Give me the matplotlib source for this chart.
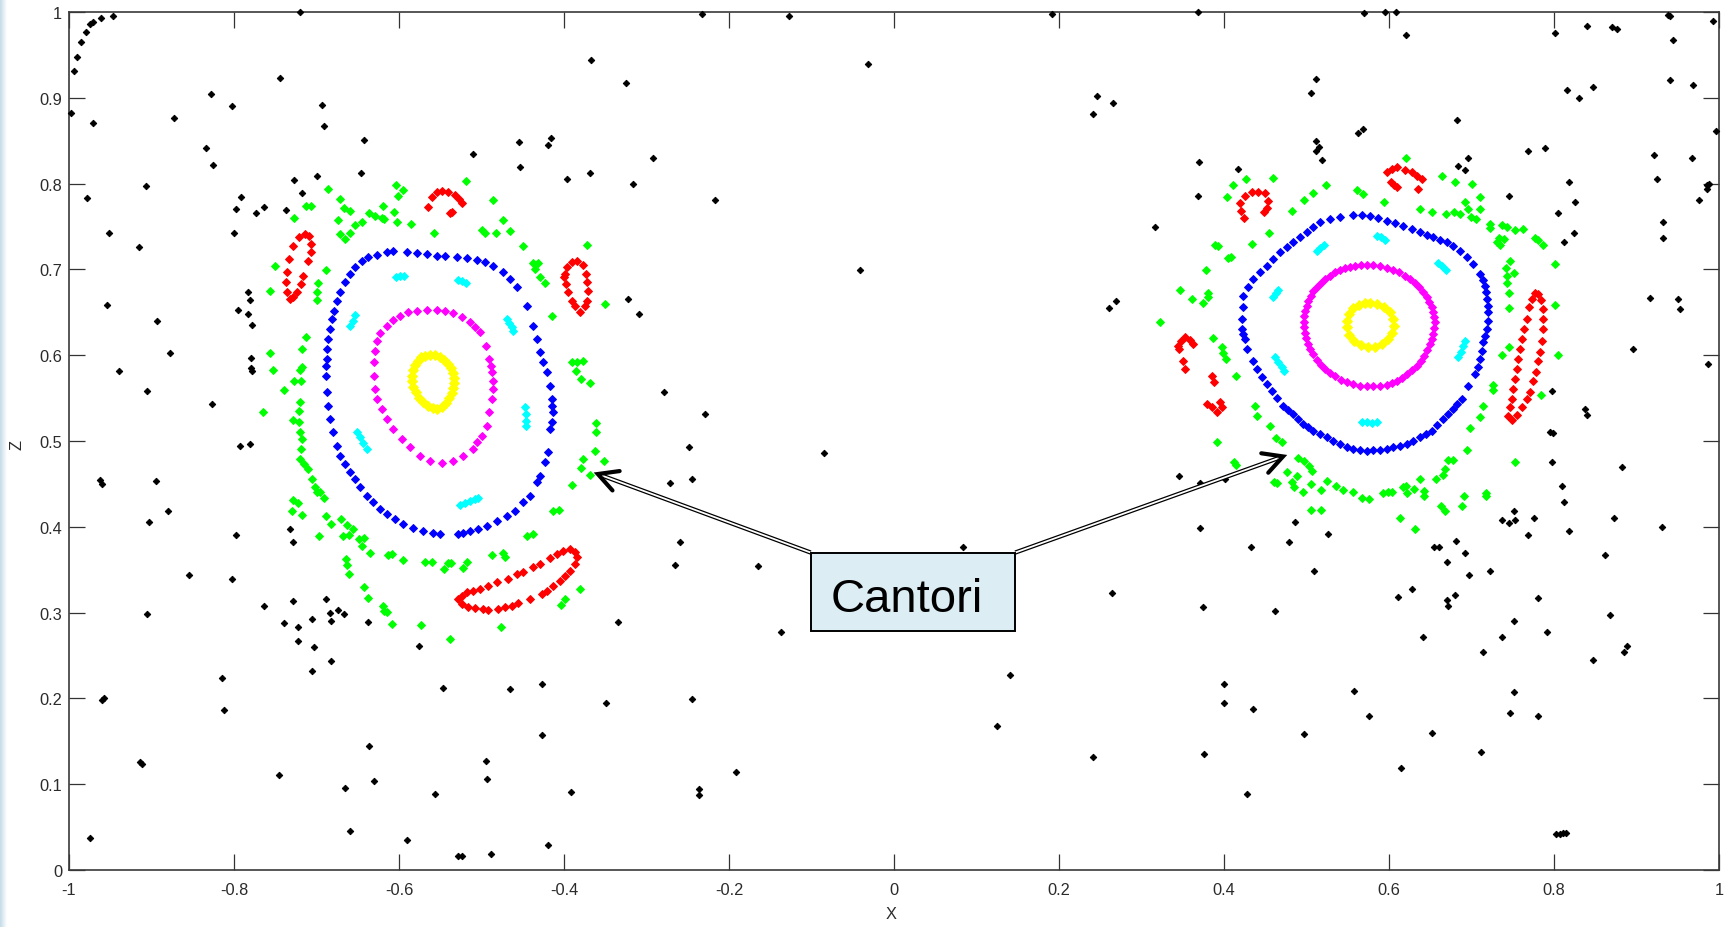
import matplotlib
matplotlib.use("Agg")
import matplotlib.pyplot as plt
import numpy as np
from matplotlib.patches import Rectangle
from matplotlib.colors import LinearSegmentedColormap

plt.rcParams['font.family'] = ['Liberation Sans', 'DejaVu Sans']

# ---------------------------------------------------------------- axes setup
x_ticks = [-1, -0.8, -0.6, -0.4, -0.2, 0, 0.2, 0.4, 0.6, 0.8, 1]
x_tick_labels = ['-1', '-0.8', '-0.6', '-0.4', '-0.2', '0', '0.2', '0.4', '0.6', '0.8', '1']
y_ticks = [0, 0.1, 0.2, 0.3, 0.4, 0.5, 0.6, 0.7, 0.8, 0.9, 1]
y_tick_labels = ['0', '0.1', '0.2', '0.3', '0.4', '0.5', '0.6', '0.7', '0.8', '0.9', '1']

# ---------------------------------------------------------------- chaotic sea (black)
chaotic_sea = [
    (-0.998, 0.882), (-0.994, 0.931), (-0.990, 0.947), (-0.985, 0.965), (-0.979, 0.977),
    (-0.975, 0.986), (-0.971, 0.988), (-0.961, 0.993), (-0.947, 0.995), (-0.971, 0.871),
    (-0.978, 0.783), (-0.951, 0.743), (-0.907, 0.797), (-0.915, 0.726), (-0.873, 0.877),
    (-0.834, 0.841), (-0.828, 0.905), (-0.825, 0.822), (-0.803, 0.890), (-0.798, 0.770),
    (-0.792, 0.784), (-0.800, 0.743), (-0.773, 0.766), (-0.764, 0.773), (-0.744, 0.923),
    (-0.737, 0.769), (-0.727, 0.804), (-0.720, 1.000), (-0.717, 0.789), (-0.700, 0.809),
    (-0.693, 0.892), (-0.691, 0.867), (-0.646, 0.812), (-0.642, 0.851),
    (-0.954, 0.658), (-0.893, 0.640), (-0.878, 0.603), (-0.939, 0.582), (-0.905, 0.558),
    (-0.827, 0.543), (-0.783, 0.674), (-0.781, 0.664), (-0.795, 0.653), (-0.783, 0.648),
    (-0.778, 0.635), (-0.779, 0.597), (-0.779, 0.585), (-0.778, 0.582), (-0.793, 0.494),
    (-0.781, 0.497), (-0.962, 0.455), (-0.960, 0.450), (-0.895, 0.453), (-0.880, 0.418),
    (-0.903, 0.406), (-0.798, 0.390), (-0.732, 0.397), (-0.728, 0.382), (-0.854, 0.344),
    (-0.803, 0.339), (-0.905, 0.298), (-0.764, 0.308), (-0.728, 0.313), (-0.739, 0.288),
    (-0.722, 0.283), (-0.723, 0.267), (-0.705, 0.292), (-0.688, 0.316), (-0.684, 0.300),
    (-0.682, 0.290), (-0.674, 0.303), (-0.667, 0.298), (-0.703, 0.260), (-0.682, 0.244),
    (-0.705, 0.232), (-0.815, 0.224), (-0.812, 0.186), (-0.960, 0.198), (-0.958, 0.201),
    (-0.914, 0.126), (-0.912, 0.124), (-0.745, 0.111), (-0.666, 0.096), (-0.975, 0.037),
    (-0.659, 0.045),
    (-0.233, 0.998), (-0.127, 0.995), (0.191, 0.998), (0.368, 1.000), (-0.367, 0.944),
    (-0.325, 0.917), (-0.031, 0.939), (0.246, 0.902), (0.266, 0.894), (0.241, 0.881),
    (-0.416, 0.853), (-0.420, 0.845), (-0.292, 0.830), (-0.396, 0.805), (-0.368, 0.812),
    (-0.316, 0.800), (-0.217, 0.781), (0.370, 0.825), (0.368, 0.786), (0.417, 0.817),
    (0.316, 0.750), (-0.041, 0.699), (-0.323, 0.665), (-0.309, 0.648), (0.261, 0.655),
    (0.269, 0.663), (-0.279, 0.557), (-0.229, 0.532), (-0.248, 0.493), (-0.085, 0.486),
    (-0.271, 0.451), (-0.245, 0.456), (0.346, 0.459), (0.371, 0.451), (0.371, 0.399),
    (-0.259, 0.382), (0.084, 0.376), (-0.453, 0.819), (-0.510, 0.835), (-0.454, 0.848),
    (-0.265, 0.356), (-0.165, 0.354), (-0.637, 0.289), (-0.334, 0.289), (-0.137, 0.277),
    (-0.576, 0.261), (0.264, 0.323), (-0.547, 0.212), (-0.465, 0.211), (-0.427, 0.217),
    (-0.349, 0.195), (-0.245, 0.199), (0.140, 0.227), (0.125, 0.168), (-0.636, 0.145),
    (-0.427, 0.157), (-0.495, 0.127), (-0.493, 0.106), (-0.630, 0.104), (-0.556, 0.089),
    (-0.391, 0.091), (-0.236, 0.094), (-0.236, 0.087), (-0.191, 0.114), (0.241, 0.132),
    (-0.590, 0.035), (-0.528, 0.016), (-0.524, 0.016), (-0.488, 0.019), (-0.420, 0.029),
    (0.401, 0.456), (0.797, 0.475), (0.883, 0.470), (0.810, 0.447), (0.812, 0.429),
    (0.818, 0.395), (0.486, 0.406), (0.526, 0.392), (0.479, 0.382), (0.433, 0.376),
    (0.509, 0.348), (0.752, 0.418), (0.737, 0.408), (0.745, 0.405), (0.753, 0.408),
    (0.776, 0.410), (0.769, 0.390), (0.873, 0.410), (0.931, 0.400), (0.862, 0.367),
    (0.681, 0.383), (0.655, 0.376), (0.661, 0.376), (0.692, 0.369), (0.670, 0.359),
    (0.697, 0.344), (0.723, 0.349), (0.628, 0.328), (0.611, 0.318), (0.680, 0.321),
    (0.670, 0.315), (0.672, 0.308), (0.780, 0.317), (0.375, 0.307), (0.462, 0.302),
    (0.751, 0.290), (0.737, 0.272), (0.792, 0.277), (0.868, 0.297), (0.641, 0.271),
    (0.714, 0.254), (0.847, 0.245), (0.885, 0.254), (0.888, 0.261), (0.400, 0.217),
    (0.400, 0.195), (0.435, 0.188), (0.557, 0.209), (0.576, 0.179), (0.497, 0.158),
    (0.752, 0.207), (0.747, 0.183), (0.780, 0.179), (0.652, 0.160), (0.711, 0.138),
    (0.376, 0.135), (0.614, 0.119), (0.428, 0.088), (0.803, 0.042), (0.807, 0.042),
    (0.811, 0.043), (0.815, 0.043),
    (0.801, 0.976), (0.840, 0.984), (0.870, 0.982), (0.876, 0.980), (0.938, 0.997),
    (0.941, 0.995), (0.993, 0.990), (0.944, 0.967), (0.816, 0.909), (0.830, 0.900),
    (0.847, 0.913), (0.940, 0.921), (0.969, 0.915), (0.996, 0.861), (0.769, 0.838),
    (0.789, 0.841), (0.921, 0.833), (0.967, 0.830), (0.818, 0.802), (0.925, 0.805),
    (0.986, 0.798), (0.988, 0.800), (0.985, 0.794), (0.976, 0.781), (0.745, 0.786),
    (0.826, 0.778), (0.805, 0.766), (0.932, 0.755), (0.932, 0.737), (0.824, 0.742),
    (0.812, 0.732),
    (0.511, 0.850), (0.512, 0.838), (0.519, 0.828), (0.684, 0.821), (0.696, 0.830),
    (0.692, 0.816), (0.795, 0.510), (0.799, 0.509),
    (0.512, 0.922), (0.506, 0.906), (0.568, 0.864), (0.563, 0.859), (0.515, 0.843),
    (0.570, 0.999), (0.595, 1.000), (0.609, 1.000), (0.621, 0.973), (0.682, 0.874),
    (0.916, 0.667), (0.950, 0.666), (0.953, 0.654), (0.987, 0.590), (0.896, 0.607),
    (0.837, 0.537), (0.840, 0.530), (0.797, 0.558),
]

# ---------------------------------------------------------------- cantori layer (green)
cantori_left = [
    (-0.686, 0.794), (-0.671, 0.782), (-0.667, 0.771), (-0.659, 0.768), (-0.674, 0.758),
    (-0.653, 0.752), (-0.645, 0.755), (-0.636, 0.766), (-0.629, 0.762), (-0.621, 0.760),
    (-0.618, 0.759), (-0.620, 0.774), (-0.606, 0.767), (-0.603, 0.755), (-0.604, 0.798),
    (-0.595, 0.793), (-0.601, 0.786), (-0.585, 0.753), (-0.557, 0.742), (-0.519, 0.803),
    (-0.486, 0.781), (-0.474, 0.758), (-0.466, 0.745), (-0.482, 0.743), (-0.499, 0.746),
    (-0.496, 0.743), (-0.450, 0.727), (-0.437, 0.708), (-0.432, 0.707), (-0.435, 0.701),
    (-0.429, 0.691), (-0.423, 0.684), (-0.414, 0.646), (-0.372, 0.729), (-0.350, 0.660),
    (-0.713, 0.774), (-0.707, 0.774), (-0.727, 0.760), (-0.671, 0.741), (-0.665, 0.736),
    (-0.660, 0.743), (-0.750, 0.704), (-0.756, 0.675), (-0.689, 0.699), (-0.698, 0.684),
    (-0.699, 0.674), (-0.699, 0.664), (-0.713, 0.621), (-0.718, 0.607), (-0.756, 0.603),
    (-0.753, 0.583), (-0.718, 0.586), (-0.720, 0.583), (-0.727, 0.570), (-0.719, 0.570),
    (-0.739, 0.559), (-0.390, 0.592), (-0.384, 0.592), (-0.377, 0.593), (-0.386, 0.582),
    (-0.379, 0.572), (-0.369, 0.568),
    (-0.720, 0.545), (-0.721, 0.535), (-0.765, 0.534), (-0.728, 0.525), (-0.721, 0.522),
    (-0.720, 0.510), (-0.718, 0.502), (-0.719, 0.491), (-0.720, 0.479), (-0.715, 0.473),
    (-0.710, 0.467), (-0.706, 0.456), (-0.702, 0.446), (-0.696, 0.440), (-0.691, 0.433),
    (-0.699, 0.441), (-0.728, 0.431), (-0.723, 0.428), (-0.730, 0.418), (-0.718, 0.414),
    (-0.688, 0.413), (-0.682, 0.403), (-0.670, 0.409), (-0.663, 0.402), (-0.656, 0.398),
    (-0.661, 0.391), (-0.668, 0.389), (-0.697, 0.389), (-0.649, 0.386), (-0.643, 0.387),
    (-0.645, 0.378), (-0.635, 0.370), (-0.613, 0.367), (-0.609, 0.368), (-0.595, 0.361),
    (-0.569, 0.359), (-0.560, 0.359), (-0.546, 0.351), (-0.540, 0.358), (-0.537, 0.358),
    (-0.523, 0.352), (-0.518, 0.359), (-0.487, 0.367), (-0.474, 0.370), (-0.472, 0.365),
    (-0.445, 0.389), (-0.438, 0.392), (-0.413, 0.418), (-0.406, 0.420), (-0.664, 0.362),
    (-0.663, 0.355), (-0.661, 0.345), (-0.642, 0.330), (-0.637, 0.317), (-0.619, 0.308),
    (-0.618, 0.302), (-0.615, 0.301), (-0.608, 0.287), (-0.573, 0.286), (-0.538, 0.269),
    (-0.476, 0.283), (-0.381, 0.327), (-0.399, 0.316), (-0.404, 0.309), (-0.361, 0.521),
    (-0.361, 0.510), (-0.362, 0.488), (-0.377, 0.479), (-0.352, 0.477), (-0.379, 0.469),
    (-0.369, 0.460), (-0.390, 0.449),
]

cantori_right = [
    (0.621, 0.830), (0.664, 0.809), (0.680, 0.802), (0.700, 0.800), (0.710, 0.784),
    (0.692, 0.779), (0.696, 0.770), (0.710, 0.770), (0.679, 0.767), (0.686, 0.765),
    (0.669, 0.765), (0.652, 0.767), (0.637, 0.770), (0.699, 0.761), (0.706, 0.759),
    (0.722, 0.753), (0.722, 0.748), (0.737, 0.752), (0.743, 0.749), (0.753, 0.746),
    (0.763, 0.747), (0.777, 0.737), (0.781, 0.734), (0.787, 0.729), (0.733, 0.737),
    (0.739, 0.736), (0.735, 0.728), (0.731, 0.732), (0.801, 0.706), (0.747, 0.710),
    (0.742, 0.702), (0.751, 0.696), (0.743, 0.692), (0.743, 0.684), (0.745, 0.673),
    (0.745, 0.655), (0.801, 0.659), (0.805, 0.600), (0.745, 0.609), (0.737, 0.600),
    (0.726, 0.565), (0.726, 0.559), (0.784, 0.554), (0.714, 0.541), (0.710, 0.528),
    (0.698, 0.515), (0.459, 0.807), (0.427, 0.805), (0.411, 0.798), (0.404, 0.784),
    (0.524, 0.798), (0.508, 0.789), (0.497, 0.781), (0.482, 0.768), (0.561, 0.792),
    (0.569, 0.788), (0.594, 0.779), (0.455, 0.743), (0.434, 0.730), (0.393, 0.727),
    (0.389, 0.729), (0.409, 0.715), (0.405, 0.713), (0.378, 0.699), (0.347, 0.676),
    (0.361, 0.666), (0.381, 0.673), (0.381, 0.668), (0.375, 0.661), (0.322, 0.639),
    (0.387, 0.620), (0.397, 0.609), (0.399, 0.603), (0.403, 0.596), (0.415, 0.576),
    (0.438, 0.541), (0.440, 0.529), (0.456, 0.518), (0.463, 0.504), (0.470, 0.499),
    (0.392, 0.499),
    (0.483, 0.452), (0.460, 0.452), (0.464, 0.451), (0.485, 0.446), (0.496, 0.441),
    (0.505, 0.450), (0.518, 0.443), (0.525, 0.453), (0.536, 0.447), (0.544, 0.443),
    (0.556, 0.441), (0.567, 0.434), (0.576, 0.432), (0.593, 0.439), (0.599, 0.440),
    (0.604, 0.440), (0.617, 0.446), (0.620, 0.447), (0.630, 0.444), (0.622, 0.439),
    (0.638, 0.456), (0.642, 0.442), (0.643, 0.436), (0.657, 0.456), (0.691, 0.436),
    (0.718, 0.436), (0.717, 0.439), (0.688, 0.424), (0.663, 0.424), (0.668, 0.418),
    (0.613, 0.410), (0.631, 0.397), (0.505, 0.420), (0.518, 0.420),
    (0.412, 0.476), (0.415, 0.472), (0.490, 0.480), (0.497, 0.477), (0.503, 0.471),
    (0.507, 0.465), (0.476, 0.464), (0.488, 0.459), (0.666, 0.460), (0.668, 0.467),
    (0.672, 0.478), (0.678, 0.478), (0.694, 0.489), (0.753, 0.475),
]

# ---------------------------------------------------------------- invariant tori, left island
torus_left_yellow = [
    (-0.5685, 0.5995), (-0.5624, 0.6003), (-0.5563, 0.5999), (-0.5503, 0.5979),
    (-0.5450, 0.5944), (-0.5402, 0.5902), (-0.5369, 0.5851), (-0.5345, 0.5793),
    (-0.5333, 0.5735), (-0.5333, 0.5676), (-0.5341, 0.5614), (-0.5361, 0.5556),
    (-0.5390, 0.5498), (-0.5426, 0.5443), (-0.5474, 0.5397), (-0.5535, 0.5373),
    (-0.5592, 0.5381), (-0.5652, 0.5404), (-0.5709, 0.5451), (-0.5757, 0.5505),
    (-0.5798, 0.5567), (-0.5826, 0.5630), (-0.5846, 0.5696), (-0.5846, 0.5762),
    (-0.5834, 0.5824), (-0.5806, 0.5886), (-0.5773, 0.5937), (-0.5733, 0.5975),
]

torus_left_magenta = [
    (-0.6299, 0.5917), (-0.6291, 0.6053), (-0.6271, 0.6170), (-0.6230, 0.6259),
    (-0.6149, 0.6345), (-0.6069, 0.6411), (-0.5988, 0.6461), (-0.5887, 0.6500),
    (-0.5786, 0.6519), (-0.5665, 0.6531), (-0.5543, 0.6531), (-0.5442, 0.6519),
    (-0.5341, 0.6492), (-0.5240, 0.6446), (-0.5139, 0.6383), (-0.5079, 0.6325),
    (-0.5018, 0.6267), (-0.4946, 0.6111), (-0.4905, 0.5956), (-0.4885, 0.5878),
    (-0.4869, 0.5801), (-0.4857, 0.5703), (-0.4857, 0.5606), (-0.4877, 0.5490),
    (-0.4905, 0.5334), (-0.4937, 0.5179), (-0.4998, 0.5062), (-0.5050, 0.4985),
    (-0.5099, 0.4907), (-0.5220, 0.4829), (-0.5341, 0.4771), (-0.5483, 0.4744),
    (-0.5624, 0.4771), (-0.5745, 0.4829), (-0.5867, 0.4926), (-0.5968, 0.5024),
    (-0.6069, 0.5140), (-0.6149, 0.5257), (-0.6210, 0.5373), (-0.6263, 0.5490),
    (-0.6291, 0.5606), (-0.6299, 0.5762),
]

torus_left_blue = [
    (-0.6816, 0.6422), (-0.6788, 0.6519), (-0.6755, 0.6636), (-0.6715, 0.6733),
    (-0.6654, 0.6850), (-0.6594, 0.6947), (-0.6533, 0.7024), (-0.6452, 0.7102),
    (-0.6372, 0.7141), (-0.6271, 0.7168), (-0.6149, 0.7199), (-0.6069, 0.7215),
    (-0.5907, 0.7207), (-0.5786, 0.7188), (-0.5665, 0.7176), (-0.5543, 0.7160),
    (-0.5442, 0.7153), (-0.5301, 0.7149), (-0.5180, 0.7129), (-0.5059, 0.7114),
    (-0.4958, 0.7083), (-0.4857, 0.7036), (-0.4736, 0.6966), (-0.4655, 0.6888),
    (-0.4574, 0.6791), (-0.4444, 0.6578), (-0.4372, 0.6345), (-0.4331, 0.6189),
    (-0.4291, 0.6034), (-0.4251, 0.5917), (-0.4210, 0.5801), (-0.4170, 0.5645),
    (-0.4150, 0.5490), (-0.4142, 0.5412), (-0.4137, 0.5334), (-0.4150, 0.5218),
    (-0.4170, 0.5140), (-0.4190, 0.4868), (-0.4230, 0.4752), (-0.4291, 0.4596),
    (-0.4331, 0.4519), (-0.4412, 0.4363), (-0.4493, 0.4285), (-0.4594, 0.4188),
    (-0.4695, 0.4130), (-0.4816, 0.4072), (-0.4937, 0.4014), (-0.5038, 0.3975),
    (-0.5139, 0.3955), (-0.5220, 0.3928), (-0.5281, 0.3916), (-0.5503, 0.3916),
    (-0.5584, 0.3928), (-0.5705, 0.3955), (-0.5826, 0.3982), (-0.5947, 0.4033),
    (-0.6048, 0.4091), (-0.6149, 0.4150), (-0.6230, 0.4208), (-0.6311, 0.4285),
    (-0.6392, 0.4363), (-0.6473, 0.4460), (-0.6533, 0.4557), (-0.6594, 0.4635),
    (-0.6654, 0.4732), (-0.6715, 0.4829), (-0.6755, 0.4946), (-0.6796, 0.5101),
    (-0.6836, 0.5257), (-0.6856, 0.5412), (-0.6869, 0.5568), (-0.6885, 0.5762),
    (-0.6885, 0.5878), (-0.6877, 0.5956), (-0.6869, 0.6073), (-0.6856, 0.6189),
    (-0.6836, 0.6306),
]

islands_left_cyan = [
    (-0.6036, 0.6908), (-0.5988, 0.6920), (-0.5939, 0.6920),
    (-0.5281, 0.6881), (-0.5232, 0.6861), (-0.5184, 0.6842),
    (-0.6594, 0.6345), (-0.6562, 0.6403), (-0.6533, 0.6469),
    (-0.4695, 0.6422), (-0.4663, 0.6376), (-0.4630, 0.6325), (-0.4614, 0.6286),
    (-0.4473, 0.5393), (-0.4465, 0.5315), (-0.4461, 0.5237), (-0.4461, 0.5179),
    (-0.6513, 0.5109), (-0.6473, 0.5043), (-0.6432, 0.4977), (-0.6392, 0.4907),
    (-0.5261, 0.4255), (-0.5200, 0.4278), (-0.5139, 0.4305), (-0.5079, 0.4325),
    (-0.5038, 0.4332),
]

islands_left_red = [
    (-0.5644, 0.7724), (-0.5604, 0.7840), (-0.5543, 0.7899), (-0.5483, 0.7918),
    (-0.5402, 0.7906), (-0.5321, 0.7867), (-0.5269, 0.7821), (-0.5240, 0.7774),
    (-0.5354, 0.7673), (-0.5382, 0.7658),
    (-0.7321, 0.6655), (-0.7361, 0.6733), (-0.7374, 0.6850), (-0.7361, 0.6966),
    (-0.7333, 0.7122), (-0.7281, 0.7269), (-0.7208, 0.7374), (-0.7139, 0.7413),
    (-0.7087, 0.7386), (-0.7062, 0.7296), (-0.7071, 0.7199), (-0.7099, 0.7102),
    (-0.7159, 0.6927), (-0.7192, 0.6830), (-0.7232, 0.6741), (-0.7281, 0.6675),
    (-0.3988, 0.6947), (-0.3968, 0.7024), (-0.3907, 0.7083), (-0.3847, 0.7102),
    (-0.3774, 0.7052), (-0.3734, 0.6947), (-0.3717, 0.6850), (-0.3705, 0.6752),
    (-0.3717, 0.6636), (-0.3746, 0.6578), (-0.3806, 0.6508), (-0.3867, 0.6578),
    (-0.3907, 0.6636), (-0.3948, 0.6733), (-0.3976, 0.6830), (-0.4000, 0.6908),
    (-0.5281, 0.3159), (-0.5240, 0.3198), (-0.5180, 0.3237), (-0.5099, 0.3256),
    (-0.5018, 0.3276), (-0.4917, 0.3314), (-0.4816, 0.3353), (-0.4675, 0.3392),
    (-0.4574, 0.3450), (-0.4493, 0.3478), (-0.4372, 0.3528), (-0.4291, 0.3567),
    (-0.4170, 0.3633), (-0.4089, 0.3683), (-0.4008, 0.3722), (-0.3927, 0.3742),
    (-0.3867, 0.3703), (-0.3847, 0.3645), (-0.3867, 0.3567), (-0.3927, 0.3489),
    (-0.3988, 0.3431), (-0.4049, 0.3373), (-0.4129, 0.3314), (-0.4210, 0.3256),
    (-0.4271, 0.3217), (-0.4412, 0.3159), (-0.4554, 0.3112), (-0.4635, 0.3081),
    (-0.4715, 0.3062), (-0.4796, 0.3042), (-0.4917, 0.3035), (-0.4978, 0.3042),
    (-0.5079, 0.3050), (-0.5160, 0.3062), (-0.5240, 0.3101),
]

# ---------------------------------------------------------------- invariant tori, right island
torus_right_yellow = [
    (0.5770, 0.6609), (0.5858, 0.6601), (0.5943, 0.6558), (0.6012, 0.6500),
    (0.6052, 0.6422), (0.6060, 0.6344), (0.6040, 0.6259), (0.5992, 0.6189),
    (0.5919, 0.6131), (0.5830, 0.6100), (0.5749, 0.6096), (0.5656, 0.6119),
    (0.5580, 0.6170), (0.5519, 0.6236), (0.5487, 0.6325), (0.5487, 0.6403),
    (0.5515, 0.6480), (0.5568, 0.6546), (0.5640, 0.6589), (0.5709, 0.6609),
]

torus_right_magenta = [
    (0.5729, 0.7051), (0.5810, 0.7048), (0.5891, 0.7036), (0.5972, 0.7016),
    (0.6052, 0.6993), (0.6125, 0.6966), (0.6194, 0.6927), (0.6254, 0.6888),
    (0.6315, 0.6842), (0.6368, 0.6791), (0.6416, 0.6733), (0.6456, 0.6675),
    (0.6489, 0.6616), (0.6517, 0.6558), (0.6537, 0.6500), (0.6549, 0.6442),
    (0.6557, 0.6383), (0.6549, 0.6313), (0.6537, 0.6247), (0.6521, 0.6189),
    (0.6497, 0.6131), (0.6465, 0.6065), (0.6424, 0.5995), (0.6384, 0.5937),
    (0.6335, 0.5878), (0.6275, 0.5828), (0.6214, 0.5781), (0.6153, 0.5738),
    (0.6093, 0.5703), (0.6032, 0.5676), (0.5972, 0.5653), (0.5891, 0.5641),
    (0.5810, 0.5637), (0.5729, 0.5637), (0.5648, 0.5645), (0.5568, 0.5661),
    (0.5487, 0.5684), (0.5414, 0.5715), (0.5345, 0.5754), (0.5285, 0.5793),
    (0.5224, 0.5839), (0.5172, 0.5890), (0.5123, 0.5948), (0.5083, 0.6010),
    (0.5042, 0.6072), (0.5014, 0.6135), (0.4994, 0.6197), (0.4978, 0.6259),
    (0.4970, 0.6325), (0.4970, 0.6391), (0.4974, 0.6461), (0.4986, 0.6519),
    (0.5002, 0.6578), (0.5022, 0.6636), (0.5050, 0.6694), (0.5083, 0.6745),
    (0.5123, 0.6791), (0.5172, 0.6842), (0.5224, 0.6888), (0.5285, 0.6927),
    (0.5345, 0.6966), (0.5406, 0.6993), (0.5467, 0.7013), (0.5527, 0.7032),
    (0.5588, 0.7044), (0.5656, 0.7051),
]

torus_right_blue = [
    (0.4214, 0.6306), (0.4214, 0.6422), (0.4226, 0.6558), (0.4234, 0.6694),
    (0.4295, 0.6791), (0.4356, 0.6888), (0.4436, 0.6966), (0.4517, 0.7044),
    (0.4598, 0.7121), (0.4679, 0.7199), (0.4760, 0.7257), (0.4840, 0.7316),
    (0.4921, 0.7374), (0.5002, 0.7432), (0.5083, 0.7490), (0.5164, 0.7549),
    (0.5285, 0.7588), (0.5406, 0.7615), (0.5568, 0.7634), (0.5669, 0.7630),
    (0.5770, 0.7619), (0.5871, 0.7595), (0.5972, 0.7568), (0.6073, 0.7537),
    (0.6174, 0.7502), (0.6275, 0.7467), (0.6376, 0.7432), (0.6456, 0.7401),
    (0.6537, 0.7374), (0.6618, 0.7347), (0.6699, 0.7316), (0.6780, 0.7269),
    (0.6860, 0.7219), (0.6941, 0.7141), (0.7022, 0.7063), (0.7103, 0.6947),
    (0.7135, 0.6881), (0.7163, 0.6811), (0.7176, 0.6733), (0.7184, 0.6655),
    (0.7196, 0.6577), (0.7204, 0.6500), (0.7196, 0.6403), (0.7184, 0.6306),
    (0.7163, 0.6228), (0.7143, 0.6150), (0.7123, 0.6053), (0.7103, 0.5956),
    (0.7075, 0.5867), (0.7042, 0.5781), (0.6961, 0.5637), (0.6881, 0.5490),
    (0.6828, 0.5431), (0.6780, 0.5373), (0.6719, 0.5315), (0.6658, 0.5257),
    (0.6586, 0.5187), (0.6517, 0.5121), (0.6448, 0.5082), (0.6376, 0.5043),
    (0.6295, 0.5004), (0.6214, 0.4965), (0.6133, 0.4946), (0.6052, 0.4926),
    (0.5972, 0.4911), (0.5891, 0.4899), (0.5810, 0.4891), (0.5729, 0.4888),
    (0.5648, 0.4895), (0.5568, 0.4907), (0.5487, 0.4934), (0.5406, 0.4965),
    (0.5325, 0.5004), (0.5244, 0.5043), (0.5164, 0.5082), (0.5083, 0.5121),
    (0.5022, 0.5159), (0.4962, 0.5198), (0.4901, 0.5257), (0.4840, 0.5315),
    (0.4780, 0.5365), (0.4719, 0.5412), (0.4646, 0.5497), (0.4578, 0.5587),
    (0.4517, 0.5665), (0.4457, 0.5742), (0.4404, 0.5839), (0.4356, 0.5936),
    (0.4275, 0.6072), (0.4255, 0.6189), (0.4234, 0.6247),
]

islands_right_cyan = [
    (0.5850, 0.7393), (0.5899, 0.7374), (0.5951, 0.7347),
    (0.5123, 0.7219), (0.5164, 0.7250), (0.5212, 0.7285),
    (0.6598, 0.7075), (0.6638, 0.7044), (0.6687, 0.6997),
    (0.4598, 0.6675), (0.4630, 0.6721), (0.4659, 0.6764),
    (0.6840, 0.5975), (0.6869, 0.6041), (0.6901, 0.6111), (0.6921, 0.6170),
    (0.4618, 0.5975), (0.4659, 0.5917), (0.4699, 0.5859), (0.4727, 0.5820),
    (0.5669, 0.5225), (0.5729, 0.5218), (0.5790, 0.5210), (0.5858, 0.5218),
]

islands_right_red = [
    (0.4242, 0.7595), (0.4202, 0.7685), (0.4194, 0.7774), (0.4255, 0.7852),
    (0.4335, 0.7898), (0.4416, 0.7906), (0.4497, 0.7887), (0.4537, 0.7801),
    (0.4517, 0.7712), (0.4485, 0.7673),
    (0.5972, 0.8132), (0.6032, 0.8170), (0.6101, 0.8190), (0.6194, 0.8163),
    (0.6275, 0.8132), (0.6343, 0.8093), (0.6396, 0.8054), (0.6020, 0.8023),
    (0.6060, 0.7984), (0.6101, 0.7964), (0.6347, 0.7937),
    (0.3447, 0.6111), (0.3475, 0.6170), (0.3527, 0.6208), (0.3588, 0.6181),
    (0.3628, 0.6131), (0.3459, 0.6072), (0.3499, 0.5936), (0.3527, 0.5839),
    (0.3851, 0.5762), (0.3879, 0.5684), (0.3790, 0.5431), (0.3851, 0.5393),
    (0.3911, 0.5334), (0.3952, 0.5451), (0.3972, 0.5393),
    (0.7446, 0.5295), (0.7466, 0.5393), (0.7487, 0.5490), (0.7507, 0.5606),
    (0.7527, 0.5723), (0.7547, 0.5839), (0.7567, 0.5956), (0.7588, 0.6072),
    (0.7608, 0.6189), (0.7636, 0.6306), (0.7668, 0.6422), (0.7701, 0.6558),
    (0.7729, 0.6655), (0.7769, 0.6725), (0.7810, 0.6714), (0.7842, 0.6647),
    (0.7862, 0.6539), (0.7870, 0.6422), (0.7870, 0.6306), (0.7858, 0.6170),
    (0.7830, 0.6034), (0.7810, 0.5936), (0.7777, 0.5801), (0.7749, 0.5703),
    (0.7709, 0.5567), (0.7668, 0.5490), (0.7608, 0.5393), (0.7547, 0.5303),
    (0.7487, 0.5249),
]

# ---------------------------------------------------------------- annotation
label_text = "Cantori"
label_box = (-0.101, 0.279, 0.147, 0.370)          # x0, y0, x1, y1
arrow_tips = [(-0.359, 0.4615), (0.4716, 0.482)]   # cantori points indicated


# ================================================================ drawing
fig = plt.figure(figsize=(17.29, 9.28), dpi=100)
fig.patch.set_facecolor('white')

# slide edge tint on the far left
strip = fig.add_axes([0, 0, 7 / 1729, 1])
strip_cmap = LinearSegmentedColormap.from_list('edge', ['#c3dbe8', '#ffffff'])
strip.imshow(np.linspace(0, 1, 64)[None, :], aspect='auto', cmap=strip_cmap)
strip.axis('off')

ax = fig.add_axes([69 / 1729, 57 / 928, 1650 / 1729, 858 / 928])
ax.set_xlim(-1, 1)
ax.set_ylim(0, 1)
ax.set_xticks(x_ticks)
ax.set_xticklabels(x_tick_labels)
ax.set_yticks(y_ticks)
ax.set_yticklabels(y_tick_labels)
ax.tick_params(direction='in', length=11.5, width=0.9, color='#333333',
               top=True, right=True, labelsize=11.8, labelcolor='#2b2b2b')
ax.tick_params(axis='x', pad=9)
ax.tick_params(axis='y', pad=5)
for sp in ax.spines.values():
    sp.set_color('#3a3a3a')
    sp.set_linewidth(1.2)


def plot_orbit(points, color, size, edge=0.7):
    xs = [p[0] for p in points]
    ys = [p[1] for p in points]
    ax.plot(xs, ys, linestyle='none', marker='D', markersize=size,
            markerfacecolor=color, markeredgecolor=color, markeredgewidth=edge,
            clip_on=False, zorder=3)


plot_orbit(chaotic_sea, 'black', 3.3)
plot_orbit(cantori_left, '#00ff00', 3.6)
plot_orbit(cantori_right, '#00ff00', 3.6)
plot_orbit(islands_left_red, '#ff0000', 4.0)
plot_orbit(islands_right_red, '#ff0000', 4.0)
plot_orbit(torus_left_blue, '#0000ff', 3.8)
plot_orbit(torus_right_blue, '#0000ff', 3.8)
plot_orbit(islands_left_cyan, '#00ffff', 4.2)
plot_orbit(islands_right_cyan, '#00ffff', 4.2)
plot_orbit(torus_left_magenta, '#ff00ff', 4.4)
plot_orbit(torus_right_magenta, '#ff00ff', 4.3)
plot_orbit(torus_left_yellow, '#ffff00', 5.4)
plot_orbit(torus_right_yellow, '#ffff00', 5.2)

fig.text(16.5 / 1729, 1 - 445 / 928, 'Z', rotation=90, ha='center', va='center',
         fontsize=11.8, color='#2b2b2b')
fig.text(891 / 1729, 1 - 915 / 928, 'X', ha='center', va='center',
         fontsize=11.8, color='#2b2b2b')

# label box
bx0, by0, bx1, by1 = label_box
ax.add_patch(Rectangle((bx0, by0), bx1 - bx0, by1 - by0, facecolor='#dcedf4',
                       edgecolor='black', linewidth=1.4, zorder=6))
ax.text(-0.0767, 0.302, label_text, fontsize=34, ha='left', va='baseline',
        color='black', zorder=7)

# double-shafted arrows with open heads
inv = ax.transData.inverted()
tails = [(bx0, by1), (bx1, by1)]
for tail, tip in zip(tails, arrow_tips):
    p0 = ax.transData.transform(tail)
    p1 = ax.transData.transform(tip)
    u = (p1 - p0) / np.hypot(*(p1 - p0))
    shaft_end = p1 - u * 6
    s0, s1 = inv.transform(p0), inv.transform(shaft_end)
    ax.plot([s0[0], s1[0]], [s0[1], s1[1]], color='black', lw=3.1,
            solid_capstyle='butt', zorder=5, clip_on=False)
    ax.plot([s0[0], s1[0]], [s0[1], s1[1]], color='white', lw=1.3,
            solid_capstyle='butt', zorder=5.1, clip_on=False)
    legs = []
    for ang in (np.deg2rad(28), -np.deg2rad(28)):
        rot = np.array([[np.cos(ang), -np.sin(ang)], [np.sin(ang), np.cos(ang)]])
        legs.append(p1 - rot @ u * 22)
    head = inv.transform(np.array([legs[0], p1, legs[1]]))
    ax.plot(head[:, 0], head[:, 1], color='black', lw=3.0, solid_joinstyle='miter',
            solid_capstyle='round', zorder=5.2, clip_on=False)

fig.savefig('out.png', dpi=100, facecolor='white')
